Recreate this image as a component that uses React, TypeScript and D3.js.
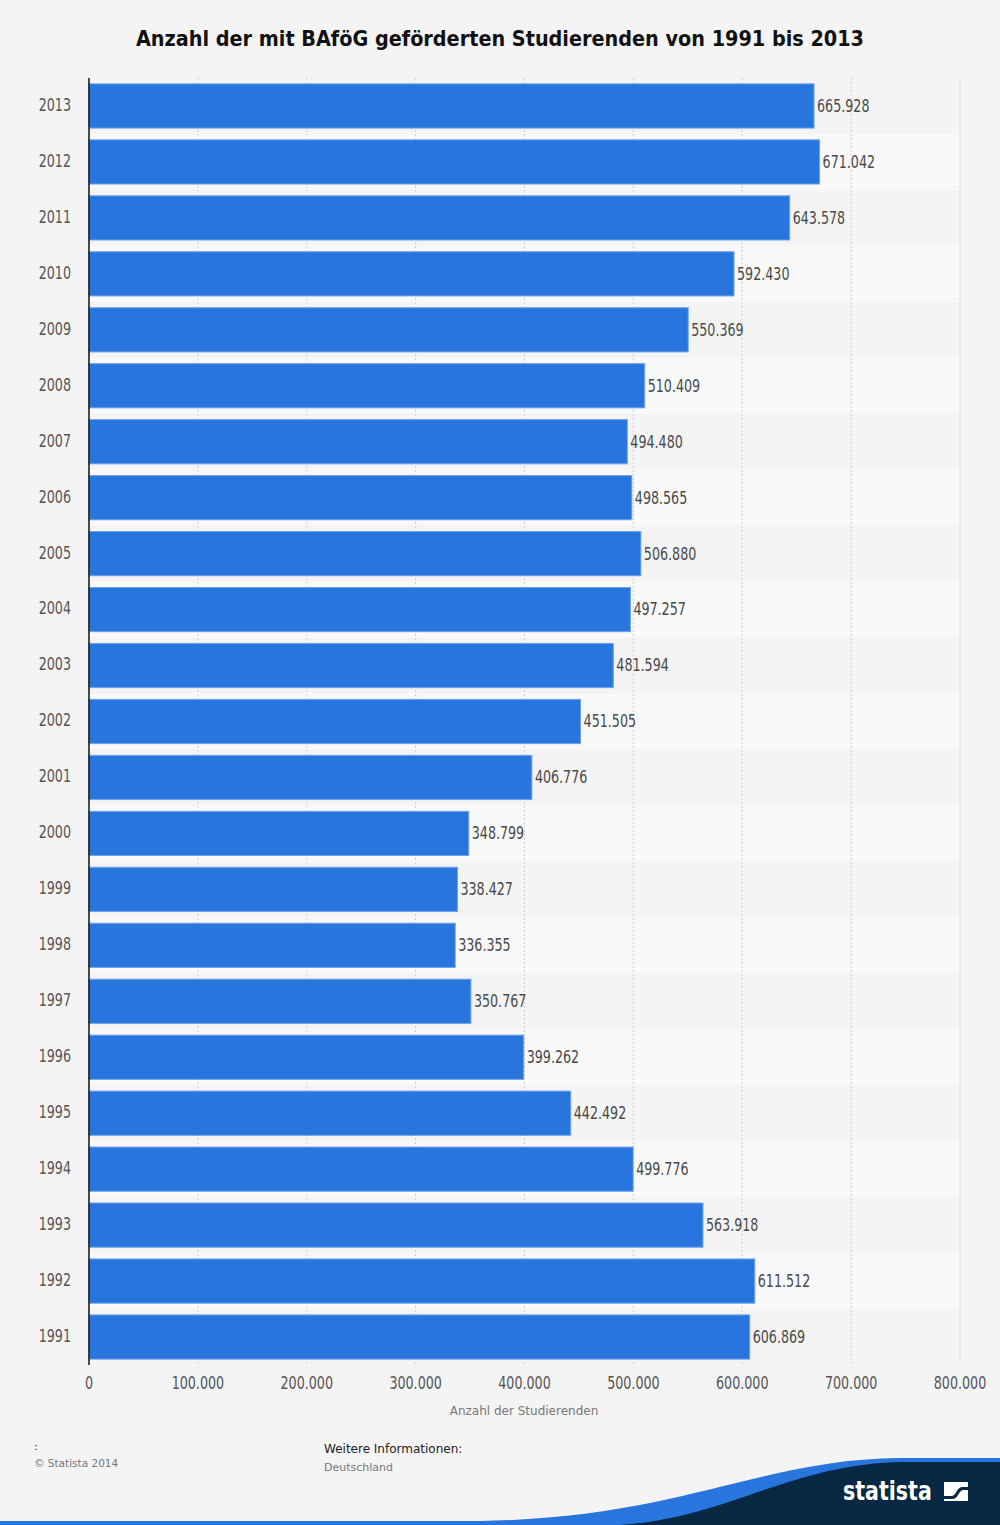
import React from "react";
import * as d3 from "d3";

const years = ["2013","2012","2011","2010","2009","2008","2007","2006","2005","2004","2003","2002","2001","2000","1999","1998","1997","1996","1995","1994","1993","1992","1991"];
const values = [665928,671042,643578,592430,550369,510409,494480,498565,506880,497257,481594,451505,406776,348799,338427,336355,350767,399262,442492,499776,563918,611512,606869];
const xTicks = [0,100000,200000,300000,400000,500000,600000,700000,800000];

const title = "Anzahl der mit BAföG geförderten Studierenden von 1991 bis 2013";
const xAxisTitle = "Anzahl der Studierenden";

const W = 1000, H = 1525;
const M = { left: 89, right: 960, top: 78, bottom: 1365 };
const COND = "'DejaVu Sans Condensed', 'DejaVu Sans', sans-serif";
const SANS = "'DejaVu Sans', sans-serif";
const SX = 0.83;

const fmt = (v: number) => v.toLocaleString("de-DE");

function NarrowText(props: { x: number; y: number; anchor?: string; fill: string; children: React.ReactNode }) {
  return (
    <text
      transform={`translate(${props.x},${props.y}) scale(${SX},1)`}
      dominantBaseline="middle"
      textAnchor={props.anchor || "start"}
      fontFamily={COND}
      fontStretch="condensed"
      fontSize={17}
      fill={props.fill}
    >
      {props.children}
    </text>
  );
}

export default function App() {
  const x = d3.scaleLinear().domain([0, 800000]).range([M.left, M.right]);
  const y = d3.scaleBand().domain(years).range([M.top, M.bottom]).paddingInner(0.21).paddingOuter(0.105);
  const band = (M.bottom - M.top) / years.length;

  return (
    <svg width={W} height={H} style={{ position: "absolute", left: 0, top: 0, display: "block" }}>
      <rect x={0} y={0} width={W} height={H} fill="#f4f4f4" />
      <text x={500} y={46} textAnchor="middle" fontFamily={COND} fontStretch="condensed" fontWeight="bold" fontSize={21.4} fill="#111">{title}</text>

      {years.map((yr, i) => (
        <rect key={"s" + yr} x={M.left} y={M.top + i * band} width={M.right - M.left} height={band} fill={i % 2 === 1 ? "#f9f9f9" : "#f4f4f4"} />
      ))}

      {xTicks.slice(1).map((t) => (
        <line key={"g" + t} x1={x(t)} x2={x(t)} y1={M.top} y2={M.bottom} stroke="#cfcfcf" strokeWidth={1} strokeDasharray="2,2" />
      ))}

      {years.map((yr, i) => {
        const by = y(yr)!;
        const bh = y.bandwidth();
        return (
          <g key={"b" + yr}>
            <rect x={x(0)} y={by} width={x(values[i]) - x(0)} height={bh} fill="#2876dd" stroke="#6fa3e8" strokeWidth={1} />
            <NarrowText x={x(values[i]) + 3} y={by + bh / 2 + 1} fill="#4a4a4a">{fmt(values[i])}</NarrowText>
            <NarrowText x={71} y={by + bh / 2} anchor="end" fill="#555">{yr}</NarrowText>
          </g>
        );
      })}

      <line x1={M.left} x2={M.left} y1={M.top} y2={M.bottom} stroke="#111" strokeWidth={1.5} />

      {xTicks.map((t) => (
        <NarrowText key={"t" + t} x={x(t)} y={1384.5} anchor="middle" fill="#555">{fmt(t)}</NarrowText>
      ))}
      <text x={524} y={1411} dominantBaseline="middle" textAnchor="middle" fontFamily={SANS} fontSize={12} fill="#777">{xAxisTitle}</text>

      <text x={34} y={1450} fontFamily={SANS} fontSize={11} fill="#222">:</text>
      <text x={34} y={1467} fontFamily={SANS} fontSize={10.5} fill="#777">© Statista 2014</text>
      <text x={324} y={1453} fontFamily={SANS} fontSize={12} fill="#222">Weitere Informationen:</text>
      <text x={324} y={1471} fontFamily={SANS} fontSize={11} fill="#777">Deutschland</text>

      <path d="M0,1521 L480,1521 C680,1518 760,1459 900,1458 L1000,1458 L1000,1525 L0,1525 Z" fill="#2876dd" />
      <path d="M620,1525 C730,1518 790,1463 905,1462 L1000,1462 L1000,1525 Z" fill="#062842" />
      <text transform="translate(843,1500) scale(0.88,1)" fontFamily={COND} fontStretch="condensed" fontWeight="bold" fontSize={26} fill="#fff">statista</text>
      <rect x={944} y={1482} width={24} height={19} fill="#fff" />
      <path d="M944,1496 L952,1496 C956,1496 957,1487 962,1487 L968,1487 L968,1490 L963,1490 C959,1490 958,1499 953,1499 L944,1499 Z" fill="#062842" />
    </svg>
  );
}
